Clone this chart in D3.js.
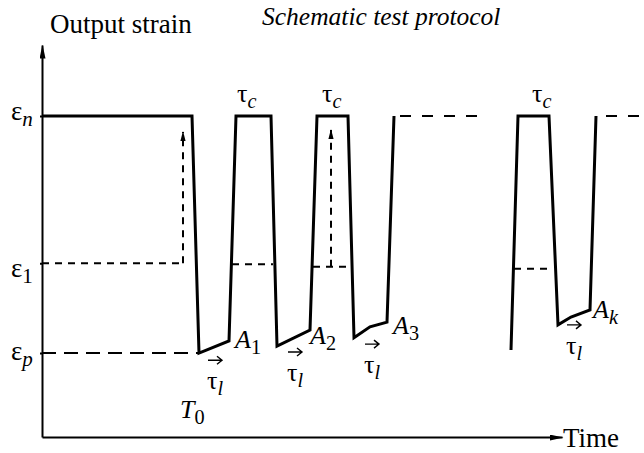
<!DOCTYPE html>
<html>
<head>
<meta charset="utf-8">
<script src="https://cdn.jsdelivr.net/npm/d3@7/dist/d3.min.js"></script>
</head>
<body style="margin:0">
<svg id="chart" width="644" height="453"></svg>
<script>
// strain levels (eps_p, eps_1, eps_n), arbitrary units 0..100
var levelSubs   = ["p", "1", "n"];
var levelValues = [21.4, 44.3, 81.9];

// protocol trace, first block of cycles (time, strain)
var run1Time   = [0, 37.5, 39.25, 46.75, 48.5, 57.25, 58.75, 67, 68.75, 76.5, 78, 82, 86.25, 88];
var run1Strain = [81.9, 81.9, 21.4, 24.5, 81.9, 81.9, 23.2, 27.3, 81.9, 81.9, 25.3, 28.1, 29.3, 81.9];
// last cycle, after the gap
var run2Time   = [117.25, 119, 126.75, 129, 132.25, 137, 138.5];
var run2Strain = [22.2, 81.9, 81.9, 28.6, 30.6, 32.4, 81.9];
// dashed holds at eps_n
var holdStart = [88, 139.5];
var holdEnd   = [110.75, 150.5];
// dashed eps_1 marks inside the cycles
var markStart  = [47.5, 67.75, 118];
var markEnd    = [57.75, 77.5, 127.75];
var markStrain = [44.1, 43.4, 42.9];
// dashed recovery arrows
var recTime  = [35.25, 72.25];
var recFrom  = [44.3, 43.4];
var recTo    = [77.8, 78.3];

// labels: tau_c over peaks, A_i at cycle ends, tau_l under valleys
var tcTime = [48.75, 70, 122.5],          tcStrain = [85.5, 85.5, 85.5];
var aSubs  = ["1", "2", "3", "k"];
var aTime  = [48.25, 67, 87.75, 137.75],  aStrain  = [22.7, 23.7, 26.3, 30.4];
var tlTime = [41.25, 61.25, 80.5, 131],   tlStrain = [12.2, 14.3, 16.3, 21.2];

var SERIF = "Liberation Serif";

var svg = d3.select("#chart"),
    WIDTH = 644,
    HEIGHT = 453,
    MARGINS = { top: 45, right: 82, bottom: 16, left: 42 };

var xScale = d3.scaleLinear()
    .domain([0, 130])
    .range([MARGINS.left, WIDTH - MARGINS.right]);
var yScale = d3.scaleLinear()
    .domain([0, 100])
    .range([HEIGHT - MARGINS.bottom, MARGINS.top]);

var defs = svg.append("defs");
function arrowMarker(id, len, half) {
  defs.append("marker")
      .attr("id", id)
      .attr("viewBox", "0 " + (-half) + " " + len + " " + (2 * half))
      .attr("markerUnits", "userSpaceOnUse")
      .attr("markerWidth", len)
      .attr("markerHeight", 2 * half)
      .attr("refX", len - 1)
      .attr("refY", 0)
      .attr("orient", "auto")
    .append("path")
      .attr("d", "M0," + (-half) + "L" + len + ",0L0," + half + "Z")
      .attr("fill", "#000");
}
arrowMarker("axisHead", 14, 3);
arrowMarker("smallHead", 10, 2.6);

// axes
var xAxis = d3.axisBottom(xScale).tickValues([]).tickSizeOuter(0);
var yAxis = d3.axisLeft(yScale).tickValues(levelValues).tickSize(2).tickSizeOuter(0).tickFormat("");

var gx = svg.append("g")
    .attr("transform", "translate(0," + yScale(0) + ")")
    .call(xAxis);
var gy = svg.append("g")
    .attr("transform", "translate(" + xScale(0) + ",0)")
    .call(yAxis);
[gx, gy].forEach(function(g) {
  g.select(".domain").attr("stroke-width", 2).attr("marker-end", "url(#axisHead)");
  g.selectAll(".tick line").attr("stroke-width", 2);
});

var line = d3.line()
  .x(function(d) { return xScale(d[0]); })
  .y(function(d) { return yScale(d[1]); });

// eps_p and eps_1 reference dashes
svg.append("path")
    .attr("d", line([[0, levelValues[0]], [run1Time[2], levelValues[0]]]))
    .attr("stroke", "#000").attr("stroke-width", 2).attr("fill", "none")
    .attr("stroke-dasharray", "14,8");
svg.append("path")
    .attr("d", line([[0, levelValues[1]], [recTime[0], levelValues[1]]]))
    .attr("stroke", "#000").attr("stroke-width", 2).attr("fill", "none")
    .attr("stroke-dasharray", "7,6");

markStart.forEach(function(t, i) {
  svg.append("path")
      .attr("d", line([[t, markStrain[i]], [markEnd[i], markStrain[i]]]))
      .attr("stroke", "#000").attr("stroke-width", 2).attr("fill", "none")
      .attr("stroke-dasharray", "7,6");
});

recTime.forEach(function(t, i) {
  svg.append("path")
      .attr("d", line([[t, recFrom[i]], [t, recTo[i]]]))
      .attr("stroke", "#000").attr("stroke-width", 2).attr("fill", "none")
      .attr("stroke-dasharray", "7,6")
      .attr("marker-end", "url(#smallHead)");
});

holdStart.forEach(function(t, i) {
  svg.append("path")
      .attr("d", line([[t, levelValues[2]], [holdEnd[i], levelValues[2]]]))
      .attr("stroke", "#000").attr("stroke-width", 2).attr("fill", "none")
      .attr("stroke-dasharray", "11,11")
      .attr("stroke-dashoffset", -6);
});

// the trace itself
[[run1Time, run1Strain], [run2Time, run2Strain]].forEach(function(r) {
  svg.append("path")
      .attr("d", line(d3.zip(r[0], r[1])))
      .attr("stroke", "#000").attr("stroke-width", 3).attr("fill", "none")
      .attr("stroke-linejoin", "miter");
});

// text helpers
function subText(x, y, main, sub, size, mainItalic, subItalic) {
  var t = svg.append("text").attr("x", x).attr("y", y)
      .attr("font-family", SERIF).attr("font-size", size);
  t.append("tspan").text(main).attr("font-style", mainItalic ? "italic" : "normal");
  t.append("tspan").text(sub)
      .attr("font-size", size * 0.78)
      .attr("dy", size * 0.22)
      .attr("font-style", subItalic ? "italic" : "normal");
  return t;
}
function plain(x, y, s, size, italic) {
  return svg.append("text").attr("x", x).attr("y", y)
      .attr("font-family", SERIF).attr("font-size", size)
      .attr("font-style", italic ? "italic" : "normal").text(s);
}

// axis titles
plain(50, 33, "Output strain", 27, false);
plain(262, 25, "Schematic test protocol", 25.5, true);
plain(563, 447, "Time", 27, false);

// level labels
var levelDy = [7, 14, 4];
levelValues.forEach(function(v, i) {
  subText(11, yScale(v) + levelDy[i], "\u03b5", levelSubs[i], 27, false, levelSubs[i] !== "1");
});

tcTime.forEach(function(t, i) {
  subText(xScale(t), yScale(tcStrain[i]), "\u03c4", "c", 26, false, true);
});
aTime.forEach(function(t, i) {
  subText(xScale(t), yScale(aStrain[i]), "A", aSubs[i], 26, true, aSubs[i] === "k");
});
tlTime.forEach(function(t, i) {
  var x0 = xScale(t), y0 = yScale(tlStrain[i]);
  subText(x0, y0, "\u03c4", "l", 26, false, true);
  // small vector arrow above tau_l
  var ax = x0 + 1, ay = y0 - 29;
  svg.append("path")
      .attr("d", "M" + ax + "," + ay + "H" + (ax + 14) +
                 "M" + (ax + 9) + "," + (ay - 4) + "L" + (ax + 14) + "," + ay +
                 "L" + (ax + 9) + "," + (ay + 4))
      .attr("stroke", "#000").attr("stroke-width", 1.4).attr("fill", "none");
});
subText(xScale(34.5), yScale(4.8), "T", "0", 26, true, false);
</script>
</body>
</html>
